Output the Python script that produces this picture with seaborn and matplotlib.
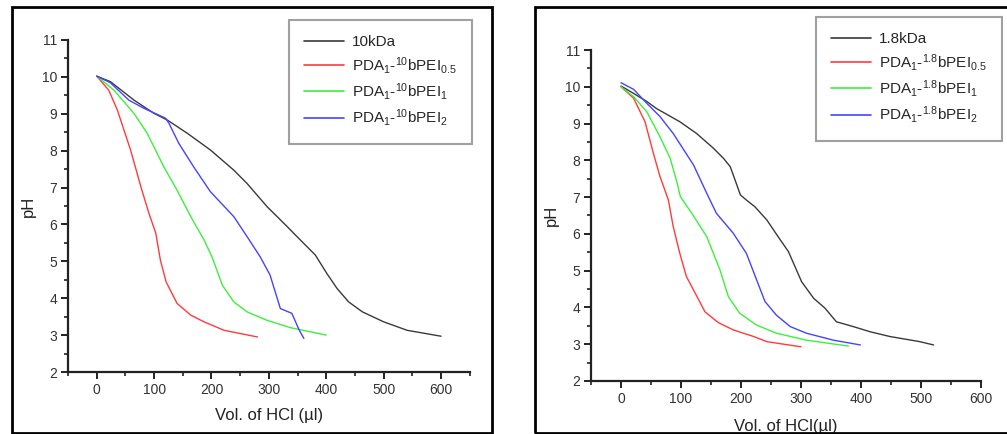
import numpy as np
import pandas as pd
import matplotlib
matplotlib.use("Agg")
import matplotlib.pyplot as plt
from matplotlib.patches import Rectangle
from matplotlib.ticker import MultipleLocator
import seaborn as sns

sns.set_style("white")
plt.rcParams['font.family'] = ['Liberation Sans', 'DejaVu Sans']
plt.rcParams['mathtext.fontset'] = 'custom'
plt.rcParams['mathtext.rm'] = 'Liberation Sans'
plt.rcParams['mathtext.it'] = 'Liberation Sans'

# ---------------- Left panel (10 kDa) ----------------
l_black_x = [0, 24, 65, 100, 123, 158, 198, 239, 262, 297, 332, 349, 381, 401, 419, 439, 463, 500, 541, 600]
l_black_y = [10.02, 9.87, 9.37, 9.01, 8.83, 8.47, 8.02, 7.47, 7.11, 6.48, 5.94, 5.67, 5.17, 4.67, 4.26, 3.90, 3.63, 3.36, 3.13, 2.97]
l_red_x = [0, 21, 36, 59, 77, 91, 103, 111, 121, 140, 164, 187, 222, 280]
l_red_y = [10.02, 9.64, 9.10, 8.02, 7.02, 6.30, 5.76, 5.03, 4.44, 3.86, 3.54, 3.36, 3.13, 2.95]
l_green_x = [0, 30, 65, 88, 117, 140, 164, 187, 201, 219, 239, 262, 297, 338, 400]
l_green_y = [10.02, 9.64, 9.01, 8.47, 7.56, 6.93, 6.21, 5.58, 5.12, 4.35, 3.90, 3.63, 3.40, 3.20, 3.00]
l_blue_x = [0, 24, 56, 82, 120, 126, 143, 169, 198, 239, 262, 285, 302, 320, 340, 353, 361]
l_blue_y = [10.02, 9.84, 9.37, 9.15, 8.88, 8.74, 8.20, 7.56, 6.89, 6.21, 5.67, 5.12, 4.63, 3.72, 3.59, 3.13, 2.91]
l_labels = ["10kDa", r"PDA$_1$-$^{10}$bPEI$_{0.5}$", r"PDA$_1$-$^{10}$bPEI$_1$", r"PDA$_1$-$^{10}$bPEI$_2$"]

# ---------------- Right panel (1.8 kDa) ----------------
r_black_x = [0, 21, 43, 59, 98, 126, 154, 171, 182, 190, 199, 209, 223, 243, 262, 279, 290, 301, 321, 340, 359, 387, 415, 448, 498, 521]
r_black_y = [10.02, 9.82, 9.60, 9.41, 9.05, 8.73, 8.33, 8.05, 7.83, 7.47, 7.06, 6.92, 6.74, 6.38, 5.92, 5.52, 5.11, 4.70, 4.25, 3.98, 3.61, 3.48, 3.34, 3.21, 3.07, 2.98]
r_red_x = [0, 21, 40, 54, 65, 79, 87, 98, 109, 121, 140, 162, 187, 221, 243, 300]
r_red_y = [10.0, 9.69, 9.05, 8.19, 7.56, 6.92, 6.20, 5.47, 4.84, 4.47, 3.88, 3.59, 3.39, 3.21, 3.07, 2.93]
r_green_x = [0, 21, 43, 65, 82, 93, 99, 118, 143, 165, 179, 198, 226, 259, 309, 379]
r_green_y = [10.0, 9.73, 9.32, 8.64, 8.05, 7.42, 7.01, 6.56, 5.92, 5.02, 4.29, 3.84, 3.52, 3.30, 3.11, 2.95]
r_blue_x = [0, 21, 43, 65, 87, 121, 143, 159, 187, 209, 226, 240, 259, 282, 309, 354, 399]
r_blue_y = [10.11, 9.93, 9.55, 9.19, 8.73, 7.87, 7.10, 6.56, 6.02, 5.47, 4.75, 4.16, 3.79, 3.48, 3.30, 3.11, 2.98]
r_labels = ["1.8kDa", r"PDA$_1$-$^{1.8}$bPEI$_{0.5}$", r"PDA$_1$-$^{1.8}$bPEI$_1$", r"PDA$_1$-$^{1.8}$bPEI$_2$"]

colors = ["#3a3a3a", "#ff3b3b", "#3cf03c", "#4444ff"]

W, H = 1007, 434
fig = plt.figure(figsize=(W / 100, H / 100), dpi=100)

# frames around each panel
fig.patches.append(Rectangle((12 / W, 1 - 433 / H), (492 - 12) / W, (433 - 7) / H,
                             transform=fig.transFigure, fill=False, edgecolor="black", linewidth=2))
fig.patches.append(Rectangle((535 / W, 1 - 433 / H), (1010 - 535) / W, (433 - 7) / H,
                             transform=fig.transFigure, fill=False, edgecolor="black", linewidth=2))


def make_df(xs, ys, labels):
    rows = []
    for x, y, lab in zip(xs, ys, labels):
        for i, (a, b) in enumerate(zip(x, y)):
            rows.append({"vol": a, "pH": b, "series": lab, "i": i})
    return pd.DataFrame(rows)


def panel(rect, xs, ys, labels, xmax, xlabel, xlabel_pad, leg_bbox):
    ax = fig.add_axes(rect)
    df = make_df(xs, ys, labels)
    sns.lineplot(data=df, x="vol", y="pH", hue="series", palette=colors, sort=False,
                 units="series", estimator=None, linewidth=1.0, ax=ax, legend=True)
    ax.set_xlim(-50, xmax)
    ax.set_ylim(2, 11)
    ax.xaxis.set_major_locator(MultipleLocator(100))
    ax.xaxis.set_minor_locator(MultipleLocator(50))
    ax.yaxis.set_major_locator(MultipleLocator(1))
    ax.yaxis.set_minor_locator(MultipleLocator(0.5))
    ax.set_xticks(np.arange(0, 601, 100))
    for s in ["top", "right"]:
        ax.spines[s].set_visible(False)
    for s in ["left", "bottom"]:
        ax.spines[s].set_color("#222222")
        ax.spines[s].set_linewidth(1.6)
    ax.tick_params(which="major", direction="out", length=5, width=1.4, color="#222222",
                   labelsize=10, labelcolor="#333333", bottom=True, left=True, pad=3)
    ax.tick_params(which="minor", direction="out", length=3, width=1.2, color="#222222",
                   bottom=True, left=True)
    ax.set_xlabel(xlabel, fontsize=12, color="#222222", labelpad=xlabel_pad)
    ax.set_ylabel("pH", fontsize=12, color="#222222", labelpad=4)
    handles, labs = ax.get_legend_handles_labels()
    leg = ax.legend(handles, labs, loc="upper left", bbox_to_anchor=leg_bbox,
                    bbox_transform=fig.transFigure, fontsize=11, frameon=True,
                    fancybox=False, edgecolor="#888888", handlelength=2.6,
                    labelspacing=0.35, borderpad=1.0, borderaxespad=0,
                    handletextpad=0.5)
    leg.get_frame().set_linewidth(1.5)
    for h in leg.get_lines():
        h.set_linewidth(1.2)
    return ax


panel([68 / W, 1 - 372 / H, (469.75 - 68) / W, 332 / H],
      [l_black_x, l_red_x, l_green_x, l_blue_x],
      [l_black_y, l_red_y, l_green_y, l_blue_y],
      l_labels, 650, "Vol. of HCl (µl)", 8, (289 / W, 1 - 20 / H))

panel([591 / W, 1 - 381 / H, 390 / W, 331 / H],
      [r_black_x, r_red_x, r_green_x, r_blue_x],
      [r_black_y, r_red_y, r_green_y, r_blue_y],
      r_labels, 600, "Vol. of HCl(µl)", 9, (816 / W, 1 - 17 / H))

fig.savefig("out.png", dpi=100)
